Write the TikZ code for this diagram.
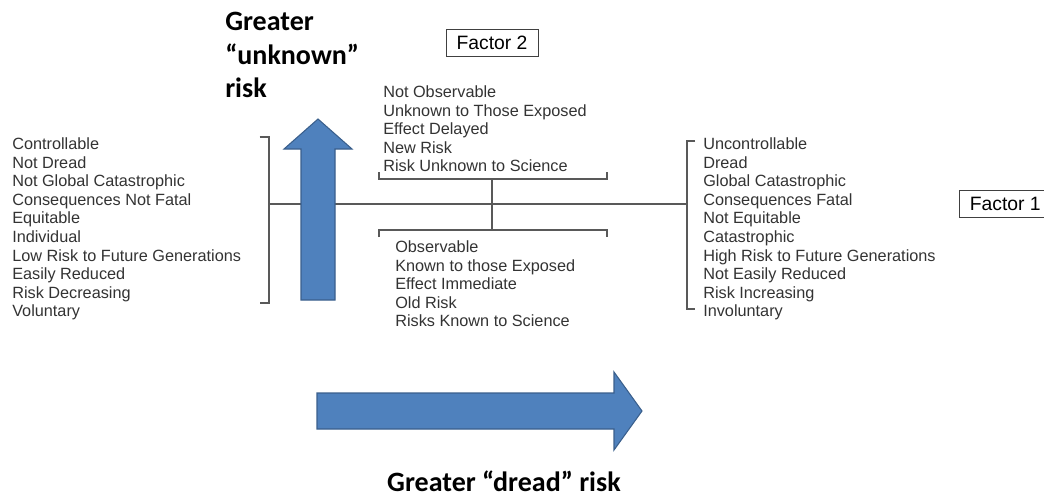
\documentclass[tikz,border=0pt]{standalone}
\usepackage{fontspec}
\setmainfont{Liberation Sans}
\newfontfamily\headfont{Carlito}
\definecolor{arrowfill}{HTML}{4F81BD}
\definecolor{arrowedge}{HTML}{3A5F8C}
\definecolor{listgray}{HTML}{333333}

\begin{document}
\begin{tikzpicture}[x=0.75pt, y=-0.75pt,
    list/.style={anchor=west, align=left, inner sep=0pt, text=listgray,
      font=\fontsize{12.2}{13.9}\selectfont},
    factor/.style={draw=black!75, thin, inner sep=0pt, minimum width=69pt,
      minimum height=20pt, font=\fontsize{14.5}{16}\selectfont},
    heading/.style={align=left, inner sep=0pt, font=\headfont\bfseries\fontsize{21}{25}\selectfont},
    bracket/.style={draw=black!65, line width=0.8pt},
    bigarrow/.style={fill=arrowfill, draw=arrowedge, line width=0.8pt, line join=miter}]
      \clip (0,0) rectangle (1044,497);
      % factor labels
      \node[factor] (f2) at (492,43) {Factor 2};
      \node[factor, anchor=west] (f1) at (959,204) {Factor 1};
      % the four lists of risk characteristics
      \node[list] (notdread) at (12,229) {Controllable\\Not Dread\\Not Global Catastrophic\\Consequences Not Fatal\\Equitable\\Individual\\Low Risk to Future Generations\\Easily Reduced\\Risk Decreasing\\Voluntary};
      \node[list] (dread) at (703,229) {Uncontrollable\\Dread\\Global Catastrophic\\Consequences Fatal\\Not Equitable\\Catastrophic\\High Risk to Future Generations\\Not Easily Reduced\\Risk Increasing\\Involuntary};
      \node[list] (unknown) at (383,129) {Not Observable\\Unknown to Those Exposed\\Effect Delayed\\New Risk\\Risk Unknown to Science};
      \node[list] (known) at (395,284) {Observable\\Known to those Exposed\\Effect Immediate\\Old Risk\\Risks Known to Science};
      % bracket corners
      \coordinate (lt) at (269,137); \coordinate (lb) at (269,303);
      \coordinate (rt) at (687,141); \coordinate (rb) at (687,309);
      \coordinate (lmid) at (269,204); \coordinate (rmid) at (687,204);
      \coordinate (ut) at (492,179); \coordinate (kb) at (492,230);
      % brackets
      \draw[bracket] ([xshift=-7pt]lt) -- (lt) -- (lb) -- ([xshift=-7pt]lb);
      \draw[bracket] ([xshift=6pt]rt) -- (rt) -- (rb) -- ([xshift=6pt]rb);
      \draw[bracket] (379,172) -- (379,179) -- (607,179) -- (607,172);
      \draw[bracket] (379,237) -- (379,230) -- (607,230) -- (607,237);
      % axes joining the brackets
      \draw[bracket] (lmid) -- (rmid);
      \draw[bracket] (ut) -- (kb);
      % block arrows
      \draw[bigarrow] (301,300) -- (301,149) -- (284,149) -- (318,119)
        -- (352,149) -- (335,149) -- (335,300) -- cycle;
      \draw[bigarrow] (317,393) -- (614,393) -- (614,372) -- (642,411)
        -- (614,450) -- (614,429) -- (317,429) -- cycle;
      % arrow captions
      \node[heading, anchor=west] (unk) at (225,55) {Greater\\“unknown”\\risk};
      \node[heading] (drd) at (504,481) {Greater “dread” risk};
    \end{tikzpicture}
\end{document}
